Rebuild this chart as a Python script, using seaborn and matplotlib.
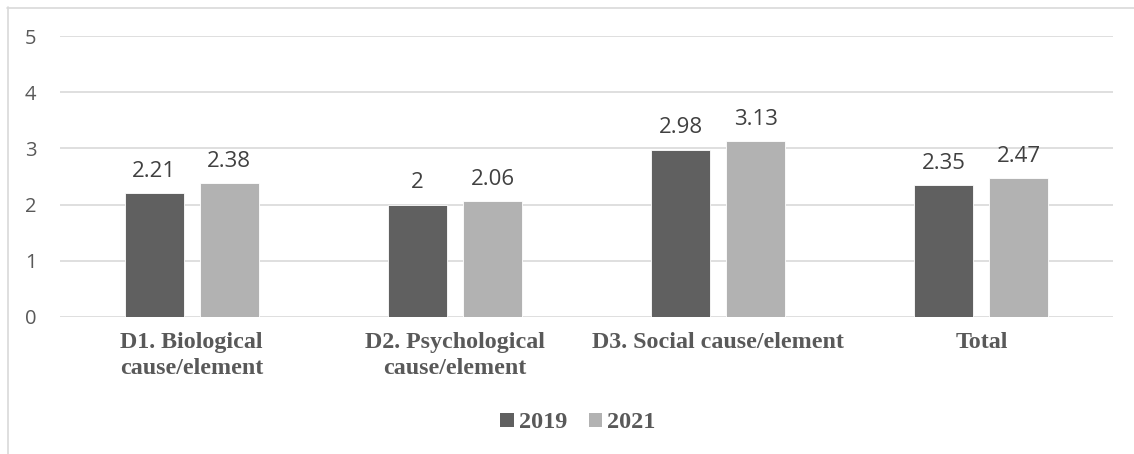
import matplotlib
matplotlib.use("Agg")
import matplotlib.pyplot as plt
import seaborn as sns
import pandas as pd
from matplotlib.lines import Line2D
from matplotlib.patches import Patch

categories = ["D1. Biological\ncause/element", "D2. Psychological\ncause/element",
              "D3. Social cause/element", "Total"]
years = ["2019", "2021"]
values_2019 = [2.21, 2.00, 2.98, 2.35]
values_2021 = [2.38, 2.06, 3.13, 2.47]
yticks = [0, 1, 2, 3, 4, 5]

df = pd.DataFrame({
    "category": categories * 2,
    "year": [years[0]] * len(categories) + [years[1]] * len(categories),
    "value": values_2019 + values_2021,
})

colors = {"2019": "#606060", "2021": "#b2b2b2"}
text_gray = "#595959"

sns.set_theme(style="white")
plt.rcParams["font.family"] = ["Open Sans", "DejaVu Sans"]

fig = plt.figure(figsize=(11.34, 4.54), dpi=100)
ax = fig.add_axes([60 / 1134, 1 - 317 / 454, (1113 - 60) / 1134, (317 - 36) / 454])

sns.barplot(data=df, x="category", y="value", hue="year", palette=colors,
            width=0.571, gap=0.214, ax=ax, legend=False, saturation=1,
            edgecolor="white", linewidth=0.6)

ax.set_ylim(0, 5)
ax.set_xlim(-0.5, len(categories) - 0.5)
ax.set_yticks(yticks)
ax.set_yticklabels([str(t) for t in yticks], fontsize=14.5, color=text_gray)
ax.yaxis.grid(True, color="#d9d9d9", linewidth=1.2)
ax.set_axisbelow(True)
for s in ax.spines.values():
    s.set_visible(False)
ax.tick_params(axis="both", length=0)
ax.tick_params(axis="y", pad=17)
ax.tick_params(axis="x", pad=11)
ax.set_xlabel("")
ax.set_ylabel("")
for lbl in ax.get_xticklabels():
    lbl.set_fontfamily("Liberation Serif")
    lbl.set_fontweight("bold")
    lbl.set_fontsize(17.3)
    lbl.set_color(text_gray)
    lbl.set_linespacing(1.3)

for cont in ax.containers:
    ax.bar_label(cont, fmt="%g", padding=8, fontsize=16, color="#404040")

handles = [Patch(facecolor=colors[y], edgecolor="none", label=y) for y in years]
fig.legend(handles=handles, loc="center", bbox_to_anchor=(578 / 1134, 1 - 423 / 454),
           ncol=2, frameon=False, handlelength=0.55, handleheight=0.55,
           handletextpad=0.2, columnspacing=0.9,
           prop={"family": "Liberation Serif", "weight": "bold", "size": 17.5},
           labelcolor=text_gray)

# chart-area frame (top and left edges visible)
fig.add_artist(Line2D([7 / 1134, 1.0], [1 - 7.5 / 454, 1 - 7.5 / 454],
                      transform=fig.transFigure, color="#d9d9d9", linewidth=1.2))
fig.add_artist(Line2D([7.5 / 1134, 7.5 / 1134], [0.0, 1 - 7 / 454],
                      transform=fig.transFigure, color="#d9d9d9", linewidth=1.2))

fig.savefig("out.png", dpi=100)
